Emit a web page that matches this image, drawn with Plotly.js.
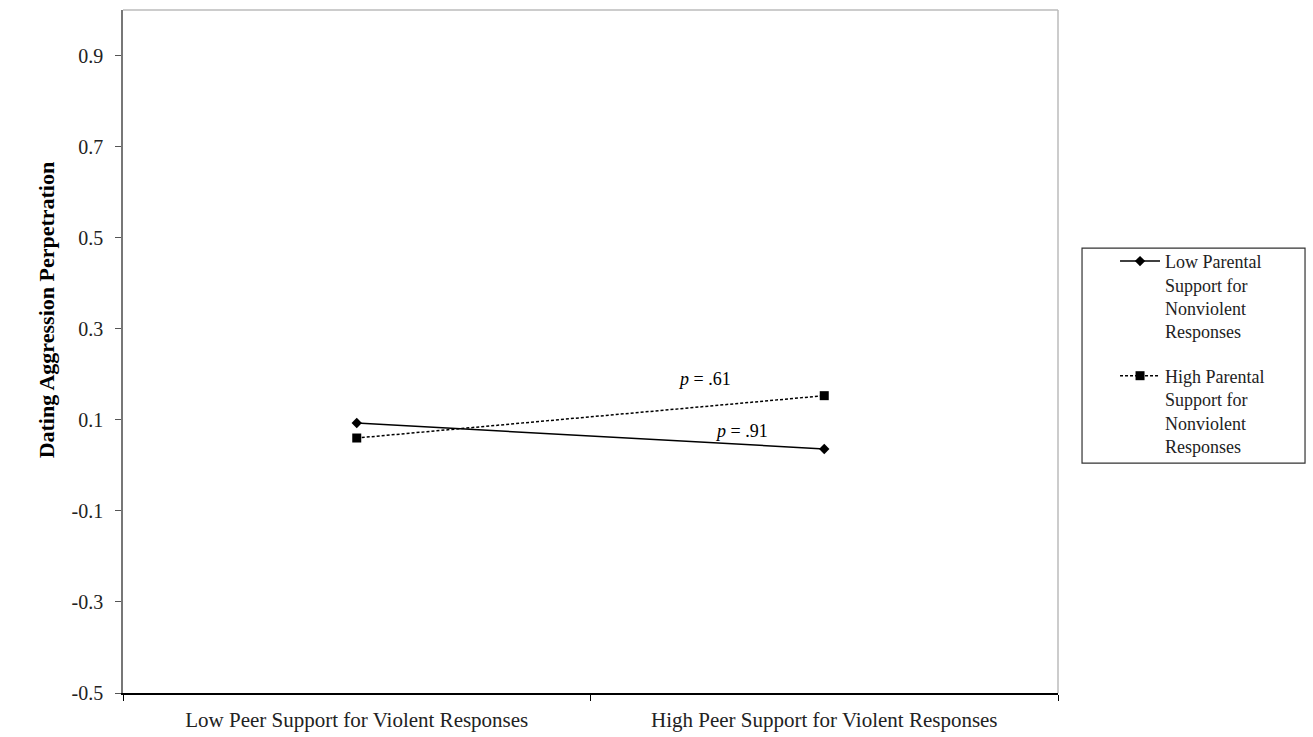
<!DOCTYPE html>
<html>
<head>
<meta charset="utf-8">
<script src="https://cdn.plot.ly/plotly-3.0.1.min.js"></script>
<style>body{margin:0;background:#fff}#chart{width:1313px;height:737px}</style>
</head>
<body>
<div id="chart"></div>
<script>
const categories = ["Low Peer Support for Violent Responses", "High Peer Support for Violent Responses"];
const lowParentalValues = [0.093, 0.036];
const highParentalValues = [0.060, 0.153];
const seriesNames = [
  "Low Parental<br>Support for<br>Nonviolent<br>Responses",
  "High Parental<br>Support for<br>Nonviolent<br>Responses"
];
const yTicks = [-0.5, -0.3, -0.1, 0.1, 0.3, 0.5, 0.7, 0.9];
const yTitle = "Dating Aggression Perpetration";
const pLabels = ["<i>p</i> = .61", "<i>p</i> = .91"];

const font = "Liberation Serif, Times New Roman, serif";

const traces = [
  {
    x: categories, y: lowParentalValues, name: seriesNames[0], legendgroup: "a",
    type: "scatter", mode: "lines+markers",
    line: {color: "#000", width: 1.5},
    marker: {symbol: "diamond", size: 8, color: "#000"}
  },
  {
    x: categories, y: highParentalValues, name: seriesNames[1], legendgroup: "b",
    type: "scatter", mode: "lines+markers",
    line: {color: "#000", width: 1.5, dash: "3px,2px"},
    marker: {symbol: "square", size: 9, color: "#000"}
  }
];

const layout = {
  width: 1313, height: 737,
  margin: {l: 123, r: 255, t: 10, b: 44},
  paper_bgcolor: "#fff", plot_bgcolor: "#fff",
  font: {family: font, size: 15, color: "#000"},
  showlegend: true,
  legend: {
    x: 1.061, y: 0.659, xanchor: "left", yanchor: "top",
    bgcolor: "rgba(0,0,0,0)", borderwidth: 0,
    valign: "top",
    font: {family: font, size: 18, color: "#222"},
    tracegroupgap: 18, itemwidth: 40
  },
  xaxis: {
    type: "category", tickson: "boundaries",
    range: [-0.5, 1.5],
    showline: true, linecolor: "#000", linewidth: 1.5,
    ticks: "outside", ticklen: 6, tickcolor: "#000",
    ticklabelstandoff: 7,
    showgrid: false, zeroline: false,
    tickfont: {family: font, size: 21, color: "#222"}
  },
  yaxis: {
    range: [-0.5, 1.0], tickvals: yTicks, ticktext: yTicks.map(v => v.toFixed(1)),
    showline: true, linecolor: "#777", linewidth: 1.5,
    ticks: "outside", ticklen: 6, tickcolor: "#555",
    ticklabelstandoff: 8,
    showgrid: false, zeroline: false,
    tickfont: {family: font, size: 20, color: "#222"}
  },
  shapes: [
    {type: "line", xref: "paper", yref: "paper", x0: 0, x1: 1, y0: 1, y1: 1, line: {color: "#bbb", width: 1.5}},
    {type: "line", xref: "paper", yref: "paper", x0: 1, x1: 1, y0: 0, y1: 1, line: {color: "#bbb", width: 1.5}},
    {type: "rect", xref: "paper", yref: "paper", x0: 1.0257, x1: 1.2642, y0: 0.3367, y1: 0.6515, line: {color: "#333", width: 1.2}, fillcolor: "rgba(0,0,0,0)"}
  ],
  annotations: [
    {xref: "paper", yref: "paper", x: -0.0973, y: 0.561, text: "<b>" + yTitle + "</b>", textangle: -90, showarrow: false, font: {family: font, size: 22, color: "#000"}},
    {xref: "paper", yref: "y", x: 0.622, y: 0.19, text: pLabels[0], showarrow: false, font: {family: font, size: 18, color: "#000"}},
    {xref: "paper", yref: "y", x: 0.661, y: 0.076, text: pLabels[1], showarrow: false, font: {family: font, size: 18, color: "#000"}}
  ]
};

Plotly.newPlot("chart", traces, layout, {displayModeBar: false});
</script>
</body>
</html>
